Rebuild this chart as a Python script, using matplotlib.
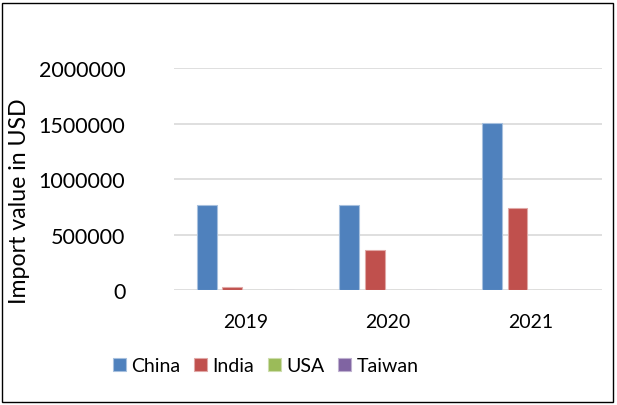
import numpy as np
import matplotlib.pyplot as plt
from matplotlib.patches import Rectangle

plt.rcParams['font.family'] = ['Lato', 'DejaVu Sans']

years = ['2019', '2020', '2021']
countries = ['China', 'India', 'USA', 'Taiwan']
china = [765000, 770000, 1506000]
india = [27000, 363000, 743000]
usa = [0, 0, 0]
taiwan = [0, 0, 0]
series = [china, india, usa, taiwan]
colors = ['#4F81BD', '#C0504D', '#9BBB59', '#8064A2']
edges = ['#A7C0DE', '#E0A8A6', '#CDDDAC', '#BFB1D0']

fig = plt.figure(figsize=(6.17, 4.06), dpi=100)
ax = fig.add_axes([0.282, 0.2825, 0.693, 0.5475])

x = np.arange(len(years))
step = 0.18
width = 0.14
for i, (vals, name) in enumerate(zip(series, countries)):
    ax.bar(x + (i - 1.5) * step, vals, width, color=colors[i],
           edgecolor=edges[i], linewidth=0.8, label=name, zorder=3)

ax.set_xlim(-0.5, 2.5)
ax.set_ylim(0, 2000000)
ax.set_yticks([0, 500000, 1000000, 1500000, 2000000])
ax.set_yticklabels(['0', '500000', '1000000', '1500000', '2000000'])
ax.set_xticks(x)
ax.set_xticklabels(years)
ax.grid(axis='y', color='#D9D9D9', linewidth=1.2, zorder=0)
ax.tick_params(axis='y', length=0, pad=35, labelsize=15.5)
ax.tick_params(axis='x', length=0, pad=16, labelsize=14)
for s in ax.spines.values():
    s.set_visible(False)
ax.set_ylabel('Import value in USD', fontsize=16.7)
ax.yaxis.set_label_coords(-0.337, 0.404)

# legend along the bottom
fig.legend(loc='center', bbox_to_anchor=(0.431, 1 - 366.7 / 406), ncol=4,
           frameon=False, fontsize=14, handlelength=0.65, handleheight=0.65,
           handletextpad=0.3, columnspacing=0.7)

# outer chart frame
fig.patches.append(Rectangle((0.004, 0.008), 0.99, 0.982, transform=fig.transFigure,
                             fill=False, edgecolor='black', linewidth=1.0))

fig.savefig('out.png', dpi=100)
